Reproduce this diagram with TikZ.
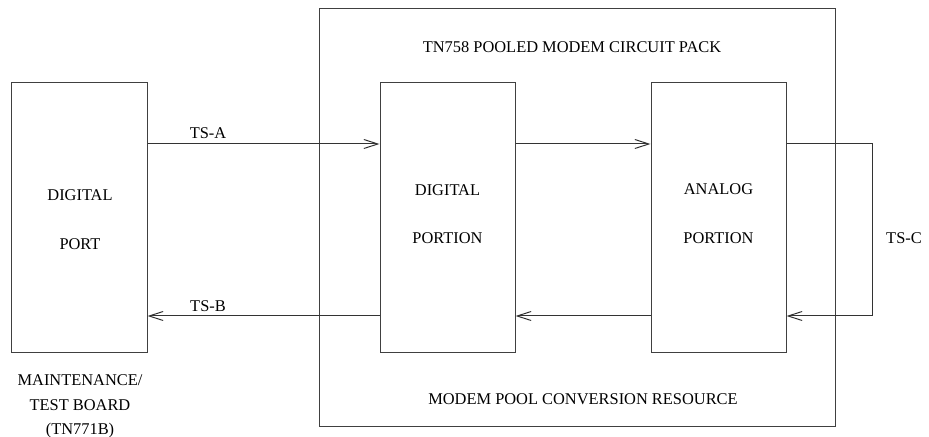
\documentclass[tikz,border=0pt]{standalone}
\usepackage{fontspec}
\setmainfont{Liberation Serif}
\usetikzlibrary{arrows.meta}
\begin{document}
\begin{tikzpicture}[x=1bp,y=-1bp,
  box/.style={draw=black!75,line width=1bp,minimum width=135bp,minimum height=270bp,inner sep=0pt},
  outer/.style={draw=black!75,line width=1bp,inner sep=0pt},
  lbl/.style={font=\fontsize{16.4bp}{22bp}\selectfont,inner sep=0pt,anchor=base},
  conn/.style={draw=black!80,line width=1bp},
  arr/.style={conn,-{Straight Barb[length=14bp,width=9bp,line width=1bp]}}]
\useasboundingbox (0,0) rectangle (929,437);
\node[outer,minimum width=516bp,minimum height=417bp] (pack) at (577,217.5) {};
\node[box] (port) at (79.5,217.5) {};
\node[box] (dig) at (447.5,217.5) {};
\node[box] (ana) at (718.5,217.5) {};
% texts
\node[lbl] (t1) at (80,201) {DIGITAL};
\node[lbl] (t2) at (80,250) {PORT};
\node[lbl] (t3) at (447.5,196) {DIGITAL};
\node[lbl] (t4) at (447.5,244) {PORTION};
\node[lbl] (t5) at (718.5,195) {ANALOG};
\node[lbl] (t6) at (718.5,244) {PORTION};
\node[lbl] (t7) at (572,53) {TN758 POOLED MODEM CIRCUIT PACK};
\node[lbl] (t8) at (583,404) {MODEM POOL CONVERSION RESOURCE};
\node[lbl] (t9) at (80,386) {MAINTENANCE/};
\node[lbl] (t10) at (80,410) {TEST BOARD};
\node[lbl] (t11) at (80,434) {(TN771B)};
\node[lbl] (tsa) at (208,139) {TS-A};
\node[lbl] (tsb) at (208,312) {TS-B};
\node[lbl] (tsc) at (904,244) {TS-C};
% connector ends
\coordinate (pa) at (port.east |- 0,144);
\coordinate (pb) at (port.east |- 0,316);
\coordinate (da) at (dig.west |- 0,144);
\coordinate (db) at (dig.west |- 0,316);
\coordinate (dc) at (dig.east |- 0,144);
\coordinate (dd) at (dig.east |- 0,316);
\coordinate (aa) at (ana.west |- 0,144);
\coordinate (ab) at (ana.west |- 0,316);
\coordinate (ac) at (ana.east |- 0,144);
\coordinate (ad) at (ana.east |- 0,316);
\coordinate (c1) at (872,144);
\coordinate (c2) at (872,316);
\draw[arr] (pa) -- (da);
\draw[arr] (db) -- (pb);
\draw[arr] (dc) -- (aa);
\draw[arr] (ab) -- (dd);
\draw[arr] (ac) -- (c1) -- (c2) -- (ad);
\end{tikzpicture}
\end{document}
